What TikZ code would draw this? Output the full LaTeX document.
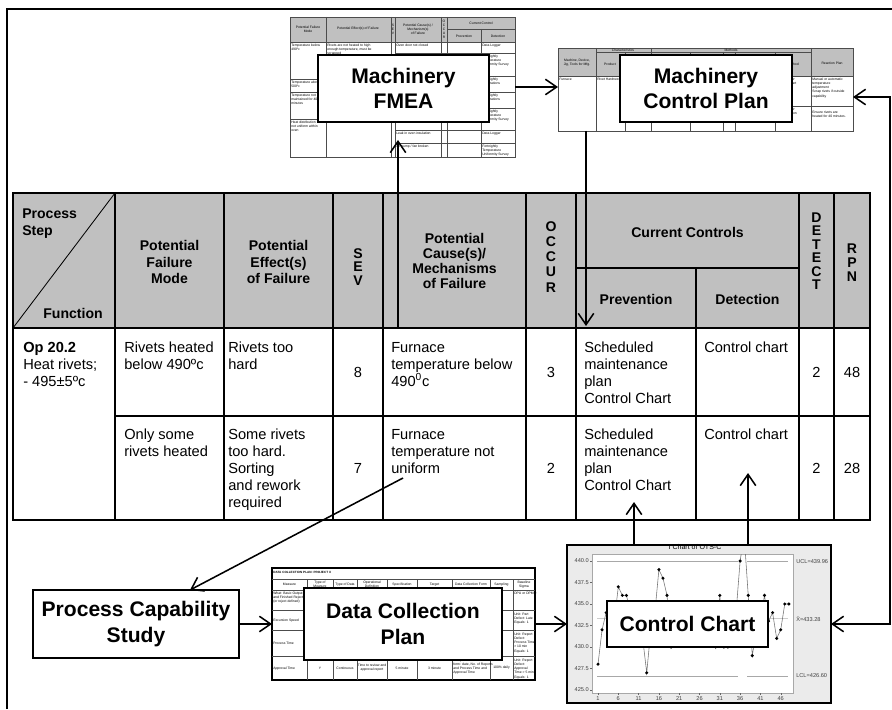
\documentclass[tikz,border=0pt]{standalone}
\usepackage{fontspec}
\setmainfont{Liberation Sans}
\usetikzlibrary{arrows.meta,positioning,calc}
\definecolor{hdrgray}{HTML}{C0C0C0}
\definecolor{chartbg}{HTML}{EBEBEB}
\definecolor{limgray}{HTML}{A8A8A8}
\newcommand{\px}{0.025cm}
\newcommand{\chartdata}{1/428,2/432,3/434,4/435,5/433,6/437,7/436,8/436,9/434,10/433,11/432,12/431,13/427,14/432,15/434,16/439,17/438,18/436,19/430,20/432,21/433,22/434,23/432,24/433,25/434,26/433,27/432,28/434,29/433,30/430,31/436,32/430,33/430,34/432,35/434,36/440,37/443,38/436,39/429,40/432,41/433,42/436,43/433,44/434,45/431,46/432,47/435,48/435}

\begin{document}
\begin{tikzpicture}[x=\px, y=-\px,
  frame/.style={line width=1.3pt},
  tline/.style={line width=1.2pt},
  thumbline/.style={line width=0.4pt, black!70},
  flow/.style={line width=1.1pt, -{Straight Barb[length=8pt,width=11pt]}},
  dflow/.style={line width=1.1pt, {Straight Barb[length=8pt,width=11pt]}-{Straight Barb[length=8pt,width=11pt]}},
  labelbox/.style={draw, line width=1.3pt, fill=white, inner sep=0pt, align=center, font=\fontsize{15}{18}\selectfont\bfseries},
  hd/.style={font=\fontsize{10}{12}\selectfont\bfseries, align=center, inner sep=0pt},
  cell/.style={font=\fontsize{10.4}{12}\selectfont, align=left, anchor=north west, inner sep=0pt},
  num/.style={font=\fontsize{10.4}{12}\selectfont, inner sep=0pt},
  tiny/.style={font=\fontsize{2.4}{2.9}\selectfont, inner sep=0pt, align=left, anchor=north west},
  tinyc/.style={font=\fontsize{2.4}{2.9}\selectfont, inner sep=0pt, align=center},
  axis/.style={font=\fontsize{4}{5}\selectfont, inner sep=0pt, text=black!75}
]
  \useasboundingbox (0,0) rectangle (892,709);

  % === Outer frame ===
  \draw[frame] (7,709) -- (7,9) -- (892,9);

  % === Machinery FMEA sheet ===
  \fill[hdrgray] (290,17) rectangle (515,42);
  \draw[thumbline] (290,17) rectangle (515,157);
  \draw[thumbline] (290,42) -- (515,42);
  \draw[thumbline] (447,29) -- (515,29);
  \foreach \cx in {326,391,395,441,447}
    \draw[thumbline] (\cx,17) -- (\cx,157);
  \draw[thumbline] (481,29) -- (481,157);
  \foreach \ry in {79,92,119}
    \draw[thumbline] (290,\ry) -- (326,\ry);
  \foreach \ry in {53,130,143}
    \draw[thumbline] (395,\ry) -- (515,\ry);
  \foreach \ry in {76,92,108}
    \draw[thumbline] (447,\ry) -- (515,\ry);
  \node[tinyc] (fmHdA) at (308,29) {Potential Failure\\Mode};
  \node[tinyc] (fmHdB) at (358,29) {Potential Effect(s) of Failure};
  \node[tinyc] (fmHdC) at (393,29) {S\\E\\V};
  \node[tinyc] (fmHdD) at (418,29) {Potential Cause(s) /\\Mechanism(s)\\of Failure};
  \node[tinyc] (fmHdE) at (444,29) {O\\C\\C\\U\\R};
  \node[tinyc] (fmHdF) at (481,23) {Current Control};
  \node[tinyc] (fmHdG) at (464,36) {Prevention};
  \node[tinyc] (fmHdH) at (498,36) {Detection};
  \node[tiny] (fmA) at (291,44) {Temperature below\\490ºc};
  \node[tiny] (fmB) at (327,44) {Rivets are not heated to high\\enough temperature, must be\\scrapped};
  \node[tiny] (fmC) at (396,44) {Oven door not closed};
  \node[tiny] (fmD) at (482,44) {Data Logger};
  \node[tiny] (fmE) at (291,81) {Temperature above\\500ºc};
  \node[tiny] (fmF) at (291,94) {Temperature not\\maintained for 40\\minutes};
  \node[tiny] (fmG) at (291,121) {Heat distribution\\not uniform within\\oven};
  \node[tiny] (fmH) at (482,55) {Fortnightly\\Temperature\\Uniformity Survey};
  \node[tiny] (fmI) at (482,78) {Fortnightly\\Calibrations};
  \node[tiny] (fmJ) at (482,94) {Fortnightly\\Calibrations};
  \node[tiny] (fmK) at (482,110) {Fortnightly\\Temperature\\Uniformity Survey};
  \node[tiny] (fmL) at (396,132) {Leak in oven insulation};
  \node[tiny] (fmM) at (396,145) {Air pump / fan broken};
  \node[tiny] (fmN) at (482,132) {Data Logger};
  \node[tiny] (fmO) at (482,145) {Fortnightly\\Temperature\\Uniformity Survey};

  % === Machinery Control Plan sheet ===
  \fill[hdrgray] (558,48) rectangle (853,76);
  \draw[thumbline] (558,48) rectangle (853,131);
  \draw[thumbline] (558,76) -- (853,76);
  \draw[thumbline] (596,52) -- (811,52);
  \foreach \cx in {596,651,811}
    \draw[thumbline] (\cx,48) -- (\cx,131);
  \foreach \cx in {625,690,723,735,775}
    \draw[thumbline] (\cx,52) -- (\cx,131);
  \draw[thumbline] (651,106) -- (853,106);
  \node[tinyc] (cpHdA) at (577,63) {Machine, Device,\\Jig, Tools for Mfg.};
  \node[tinyc] (cpHdB) at (623,50) {Characteristics};
  \node[tinyc] (cpHdC) at (731,50) {Methods};
  \node[tinyc] (cpHdD) at (610,64) {Product};
  \node[tinyc] (cpHdE) at (793,64) {Method};
  \node[tinyc] (cpHdF) at (832,63) {Reaction Plan};
  \node[tiny] (cpA) at (559,78) {Furnace};
  \node[tiny] (cpB) at (597,78) {Rivet Hardness};
  \node[tiny] (cpC) at (776,78) {Data Logger\\Control Chart};
  \node[tiny] (cpD) at (812,78) {Manual or automatic\\temperature\\adjustment\\Scrap rivets if outside\\capability};
  \node[tiny] (cpE) at (776,108) {Data Logger\\Time duration\\treatment};
  \node[tiny] (cpF) at (812,111) {Ensure rivets are\\heated for 40 minutes.};

  % === PFMEA table ===
  \fill[hdrgray] (13,193) rectangle (870,328);
  \draw[line width=0.6pt] (13,328) -- (115,193);
  \draw[tline] (13,193) rectangle (870,520);
  \draw[tline] (13,328) -- (870,328);
  \draw[tline] (115,416) -- (870,416);
  \draw[tline] (576,268) -- (799,268);
  \foreach \cx in {115,224,333,383,526,576,799,834}
    \draw[tline] (\cx,193) -- (\cx,520);
  \draw[tline] (696,268) -- (696,520);

  % header
  \node[hd, align=left, anchor=north west] (hStep) at (22,209) {Process\\Step};
  \node[hd, anchor=base] (hFunc) at (73,318) {Function};
  \node[hd] (hMode) at (169.5,262) {Potential\\Failure\\Mode};
  \node[hd] (hEffect) at (278.5,262) {Potential\\Effect(s)\\of Failure};
  \node[hd, font=\fontsize{10}{9.8}\selectfont\bfseries] (hSev) at (358,267) {S\\E\\V};
  \node[hd, font=\fontsize{10}{10.8}\selectfont\bfseries] (hCause) at (454.5,261) {Potential\\Cause(s)/\\Mechanisms\\of Failure};
  \node[hd, font=\fontsize{10}{10.7}\selectfont\bfseries] (hOcc) at (551,257) {O\\C\\C\\U\\R};
  \node[hd] (hCtrl) at (687.5,232) {Current Controls};
  \node[hd] (hPrev) at (636,299) {Prevention};
  \node[hd] (hDet) at (747.5,299) {Detection};
  \node[hd, font=\fontsize{10}{9.6}\selectfont\bfseries] (hDetect) at (816.5,251) {D\\E\\T\\E\\C\\T};
  \node[hd, font=\fontsize{10}{10}\selectfont\bfseries] (hRpn) at (852,263) {R\\P\\N};

  % row 1
  \node[cell] (opStep) at (23,342) {\textbf{Op 20.2}\\Heat rivets;\\- 495±5ºc};
  \node[cell] (modeA) at (124,342) {Rivets heated\\below 490ºc};
  \node[cell] (effA) at (228,342) {Rivets too\\hard};
  \node[num] (sevA) at (358,372) {8};
  \node[cell] (causeA) at (391,342) {Furnace\\temperature below\\490\textsuperscript{0}c};
  \node[num] (occA) at (551,372) {3};
  \node[cell] (prevA) at (584,342) {Scheduled\\maintenance\\plan\\Control Chart};
  \node[cell] (detA) at (704,342) {Control chart};
  \node[num] (dtA) at (816.5,372) {2};
  \node[num] (rpnA) at (852,372) {48};

  % row 2
  \node[cell] (modeB) at (124,429) {Only some\\rivets heated};
  \node[cell] (effB) at (228,429) {Some rivets\\too hard.\\Sorting\\and rework\\required};
  \node[num] (sevB) at (358,468) {7};
  \node[cell] (causeB) at (391,429) {Furnace\\temperature not\\uniform};
  \node[num] (occB) at (551,468) {2};
  \node[cell] (prevB) at (584,429) {Scheduled\\maintenance\\plan\\Control Chart};
  \node[cell] (detB) at (704,429) {Control chart};
  \node[num] (dtB) at (816.5,468) {2};
  \node[num] (rpnB) at (852,468) {28};

  % === Data Collection Plan sheet ===
  \draw[line width=0.9pt] (272,568) rectangle (535,680);
  \draw[thumbline] (272,579) -- (535,579);
  \foreach \ry in {590,610,630,656}
    \draw[thumbline] (272,\ry) -- (535,\ry);
  \foreach \cx in {307,333,357,387,417,452,490,513}
    \draw[thumbline] (\cx,579) -- (\cx,680);
  \node[tiny, font=\fontsize{2.2}{2.6}\selectfont\bfseries] (dcTitle) at (273,571) {DATA COLLECTION PLAN: PROJECT X};
  \node[tinyc] (dcHdA) at (289.5,584.5) {Measure};
  \node[tinyc] (dcHdB) at (320,584.5) {Type of\\Measure};
  \node[tinyc] (dcHdC) at (345,584.5) {Type of Data};
  \node[tinyc] (dcHdD) at (372,584.5) {Operational\\Definition};
  \node[tinyc] (dcHdE) at (402,584.5) {Specification};
  \node[tinyc] (dcHdF) at (434.5,584.5) {Target};
  \node[tinyc] (dcHdG) at (471,584.5) {Data Collection Form};
  \node[tinyc] (dcHdH) at (501.5,584.5) {Sampling};
  \node[tinyc] (dcHdI) at (524,584.5) {Baseline\\Sigma};
  \node[tiny] (dcA) at (273,592) {What: Basic Output\\and Finished Rejects\\(or reject defined)};
  \node[tiny] (dcB) at (273,619) {Excursion Speed};
  \node[tiny] (dcC) at (273,642) {Process Time};
  \node[tiny] (dcD) at (273,667) {Approval Time};
  \node[tiny] (dcE) at (514,592) {DPU or DPMO};
  \node[tiny] (dcF) at (514,613) {Unit: Part\\Defect: Late\\Equals: 1};
  \node[tiny] (dcG) at (514,633) {Unit: Report\\Defect:\\Process Time\\> 10 min\\Equals: 1};
  \node[tinyc] (dcH) at (320,668) {Y};
  \node[tinyc] (dcI) at (345,668) {Continuous};
  \node[tinyc] (dcJ) at (372,668) {Time to review and\\approval report};
  \node[tinyc] (dcK) at (402,668) {5 minute};
  \node[tinyc] (dcL) at (434.5,668) {3 minute};
  \node[tiny] (dcM) at (453,659) {Computer data collection\\form: date, No. of Reports\\and Process Time and\\Approval Time};
  \node[tinyc] (dcN) at (501.5,668) {100\% daily};
  \node[tiny] (dcO) at (514,659) {Unit: Report\\Defect:\\Approval\\Time > 5 min\\Equals: 1};

  % === I chart ===
  \fill[chartbg] (567,545) rectangle (831,703);
  \node[font=\fontsize{5}{6}\selectfont, inner sep=0pt] (chartTitle) at (695,547) {I Chart of OTS-C};
  \draw[line width=0.9pt] (567,545) rectangle (831,703);
  \draw[limgray, fill=white, line width=0.3pt] (592,554) rectangle (793,693);
  \draw[black!20, line width=0.5pt] (597,618.8) -- (788,618.8);
  \draw[limgray, line width=0.5pt] (597,561.3) -- (738,561.3) (747,561.3) -- (788,561.3);
  \draw[limgray, line width=0.5pt] (597,676) -- (738,676) (747,676) -- (788,676);
  \foreach \v/\lab in {440/440.0,437.5/437.5,435/435.0,432.5/432.5,430/430.0,427.5/427.5,425/425.0} {
    \draw[black!60, line width=0.3pt] (590,{561+(440-\v)*8.6}) -- (592,{561+(440-\v)*8.6});
    \node[axis, anchor=east] at (589,{561+(440-\v)*8.6}) {\lab};
  }
  \foreach \i in {1,6,...,46} {
    \draw[black!60, line width=0.3pt] ({598+(\i-1)*4.06},693) -- ({598+(\i-1)*4.06},695);
    \node[axis, anchor=north] at ({598+(\i-1)*4.06},696) {\i};
  }
  \node[axis, anchor=west] (ucl) at (796,561.3) {UCL=439.96};
  \node[axis, anchor=west] (xbar) at (796,618.8) {\={X}=433.28};
  \node[axis, anchor=west] (lcl) at (796,676) {LCL=426.60};
  \begin{scope}
    \clip (592,554) rectangle (793,693);
    \draw[black!55, line width=0.4pt] (598,{561+(440-428)*8.6})
      \foreach \i/\v in \chartdata { -- ({598+(\i-1)*4.06},{561+(440-\v)*8.6}) };
    \foreach \i/\v in \chartdata
      \fill ({598+(\i-1)*4.06},{561+(440-\v)*8.6}) circle[radius=1.7];
  \end{scope}

  % === Label boxes ===
  \node[labelbox, minimum width=171*\px, minimum height=67*\px] (fmeaBox) at (403.5,88.5) {Machinery\\FMEA};
  \node[labelbox, minimum width=172*\px, minimum height=67*\px] (cplanBox) at (706,88.5) {Machinery\\Control Plan};
  \node[labelbox, minimum width=206*\px, minimum height=68*\px] (pcsBox) at (136,624) {Process Capability\\Study};
  \node[labelbox, minimum width=198*\px, minimum height=72*\px] (dcpBox) at (403,624) {Data Collection\\Plan};
  \node[labelbox, minimum width=161*\px, minimum height=46*\px] (chartBox) at (687.5,624) {Control Chart};

  % === Connectors ===
  \coordinate (causeTop) at (398,328);
  \coordinate (fmeaFoot) at (398,140);
  \coordinate (fmeaSide) at (515,87);
  \coordinate (cplanSide) at (558,87);
  \coordinate (cplanFoot) at (586,131);
  \coordinate (prevTop) at (586,326);
  \coordinate (cplanEdge) at (853,97);
  \coordinate (rightRail) at (890,97);
  \coordinate (chartEdge) at (831,624);
  \coordinate (uniformCell) at (403,478);
  \coordinate (pcsTop) at (190,590);
  \coordinate (dcpWest) at (272,624);
  \coordinate (dcpEast) at (535,624);
  \coordinate (chartWest) at (567,624);
  \coordinate (chartTopA) at (634,545);
  \coordinate (prevCell) at (634,502);
  \coordinate (chartTopB) at (748,545);
  \coordinate (detCell) at (748,473);

  \draw[flow] (causeTop) -- (fmeaFoot);
  \draw[flow] (fmeaSide) -- (cplanSide);
  \draw[flow] (cplanFoot) -- (prevTop);
  \draw[dflow] (cplanEdge) -- (rightRail) |- (chartEdge);
  \draw[flow] (uniformCell) -- (pcsTop);
  \draw[flow] (pcsBox.east) -- (dcpWest);
  \draw[flow] (dcpEast) -- (chartWest);
  \draw[flow] (chartTopA) -- (prevCell);
  \draw[flow] (chartTopB) -- (detCell);
\end{tikzpicture}
\end{document}
